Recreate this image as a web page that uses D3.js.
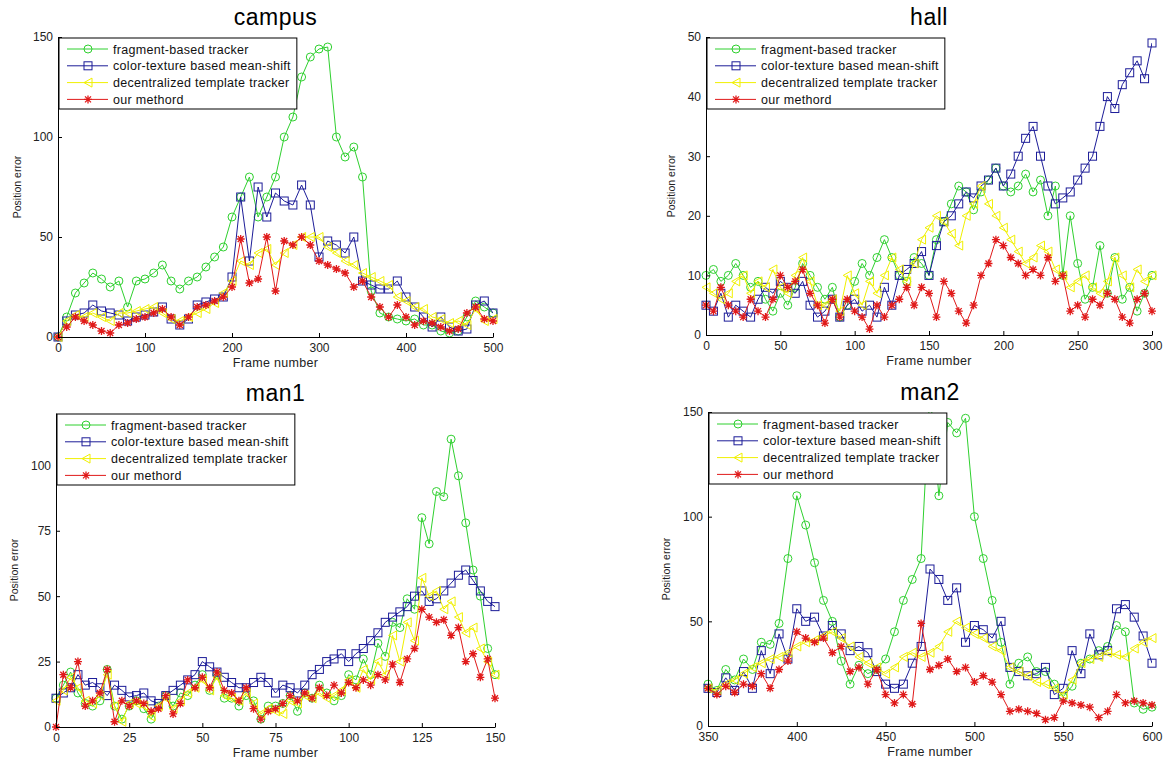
<!DOCTYPE html>
<html>
<head>
<meta charset="utf-8">
<script src="https://d3js.org/d3.v7.min.js"></script>
<style>
  body { margin: 0; background: #fff; }
  svg text { font-family: "Liberation Sans", Arial, sans-serif; }
</style>
</head>
<body>
<script>
// ---- data ----
var seriesNames = ["fragment-based tracker", "color-texture based mean-shift",
                   "decentralized template tracker", "our methord"];

// campus: every 10th frame
var campusFrames = d3.range(0, 501, 10);
var campusFragment = [0,10,22,27,32,29,25,28,15,28,29,32,36,28,24,28,30,35,40,45,60,70,80,60,70,80,100,110,130,140,144,145,100,90,95,80,23,12,10,9,8,9,6,6,3,2,3,10,18,15,12];
var campusMeanShift = [0,8,11,12,16,13,12,11,8,10,11,12.5,15,9,6,9,16,17.5,19,20,30,70,38,75,60,72,68,66,76,66,40,48,46,42,50,28,26,24,24,28,20,15,10,5,10,5,3,4,16,18,12];
var campusTemplate = [0,8,11,10,12,10,8,12,12,13,14,15,12,9,8,10,12,14,17,22,28,38,36,42,44,36,42,46,50,50,50,45,42,38,36,32,30,28,26,20,18,15,14,10,9,7,8,6,14,8,9];
var campusOurs = [0,5,10,8,6,3,2,6,7,9,10,12,14,10,6,10,15,16,18,20,25,49,27,29,50,23,48,46,50,46,38,36,34,32,25,28,20,15,10,16,10,6,8,7,5,3,4,12,15,9,8];

// hall: every 5th frame
var hallFrames = d3.range(0, 301, 5);
var hallFragment = [10,11,9,10,12,10,8,9,6,4,7,5,8,12,10,8,6,8,3,5,9,12,10,13,16,13,10,9,13,12,10,16,19,22,25,24,21,24,26,28,25,24,25,27,24,26,20,25,10,20,12,6,8,15,7,13,6,8,4,7,10];
var hallMeanShift = [5,4,7,3,5,4,3,6,8,7,9,8,7,9,5,3,4,6,3,5,6,4,5,3,8,5,10,11,12,14,10,15,19,20,22,24,23,25,26,28,25,27,30,33,35,30,25,22,23,24,26,28,30,35,40,38,42,44,46,43,49];
var hallTemplate = [8,7,6,7,9,10,7,9,8,11,8,7,10,13,9,5,5,6,4,10,7,5,9,7,10,13,11,9,12,16,18,20,19,17,15,20,22,25,22,20,18,16,14,12,13,15,14,11,10,8,9,10,8,7,9,13,10,8,11,9,10];
var hallOurs = [5,4,8,5,4,3,6,4,3,6,10,8,9,11,7,5,2,6,3,6,4,3,1,5,3,5,6,8,5,8,7,3,9,7,4,2,5,10,12,16,15,13,12,10,11,10,13,9,10,4,5,3,6,5,7,6,3,2,6,7,4];

// man1: every 2.5 frames
var man1Frames = d3.range(0, 150.1, 2.5);
var man1Fragment = [11,16,21,13,9,8,10,22,8,3,8,10,7,3,8,12,8,13,12,16,20,14,20,11,11,8,12,10,3,8,8,9,12,6,13,11,16,13,10,12,20,18,26,20,32,27,40,38,49,45,80,70,90,88,110,96,78,60,50,30,20];
var man1MeanShift = [11,13,15,20,16,17,15,12,16,14,11.5,12,13,10,9,12,14,16,18,20,25,23,21,19,17,15,15,17,19,17,13,16,15,13,16,20,22,25,26,28,25,28,30,33,36,40,42,44,46,50,52,48,49,52,55,58,60,56,52,48,46];
var man1Template = [10,14,19,15,10,9,12,20,8,2,9,9,8,4,8,11,7,10,13,15,18,14,19,12,11,10,13,9,5,7,6,5,10,9,12,11,13,11,12,14,18,15,22,18,25,20,35,25,40,33,57,50,52,45,48,42,36,38,30,25,20];
var man1Ours = [0,20,15,25,8,10,13,22,2,10,8,10,9,6,7,12,5,9,18,15,19,15,21,14,13,10,15,7,3,6,7,9,12,10,13,11,15,12,16,13,17,15,18,16,20,18,24,17,26,30,45,42,40,41,35,38,25,28,19,26,11];

// man2: every 5th frame from 350
var man2Frames = d3.range(350, 601, 5);
var man2Fragment = [20,17,27,22,32,27,40,39,49,80,110,96,78,60,50,31,20,29,25,27,32,45,60,70,80,160,110,145,140,147,100,80,60,40,20,30,33,26,26,20,14,19,30,32,36,38,48,45,11,8,9];
var man2MeanShift = [18,16,23,17,26,18,36,25,44,32,56,50,52,43,48,44,36,38,35,26,20,18,20,30,38,75,70,60,66,40,48,46,42,50,28,26,24,25,28,15,18,36,25,44,34,36,56,58,52,43,30];
var man2Template = [18,17,20,22,25,28,30,32,33,35,38,40,41,43,45,42,38,33,30,28,25,28,33,35,33,35,38,45,50,47,44,42,38,36,28,26,24,21,20,18,15,22,30,32,33,35,34,33,37,40,42];
var man2Ours = [18,15,19,16,20,19,25,18,27,31,45,42,40,42,35,38,26,28,20,27,15,11,15,10.5,49,27,29,32,26,28,21,24,21,15,7,8,7,6,3,4,12,11,10,9,4,7,15,11,12,11,10];

// ---- styling ----
var colors = ["#2fd02f", "#1c1c98", "#f0f000", "#e01a1a"];
var markers = ["circle", "square", "triangle", "star"];

var panels = [
  { title: "campus", left: 58, right: 493, top: 37, bottom: 337, ylab: 37,
    xDomain: [0, 500], xTicks: [0, 100, 200, 300, 400, 500],
    yDomain: [0, 150], yTicks: [0, 50, 100, 150],
    frames: campusFrames, series: [campusFragment, campusMeanShift, campusTemplate, campusOurs] },
  { title: "hall", left: 706, right: 1152, top: 37, bottom: 335, ylab: 31,
    xDomain: [0, 300], xTicks: [0, 50, 100, 150, 200, 250, 300],
    yDomain: [0, 50], yTicks: [0, 10, 20, 30, 40, 50],
    frames: hallFrames, series: [hallFragment, hallMeanShift, hallTemplate, hallOurs] },
  { title: "man1", left: 56, right: 495, top: 413, bottom: 727, ylab: 38,
    xDomain: [0, 150], xTicks: [0, 25, 50, 75, 100, 125, 150],
    yDomain: [0, 120], yTicks: [0, 25, 50, 75, 100],
    frames: man1Frames, series: [man1Fragment, man1MeanShift, man1Template, man1Ours] },
  { title: "man2", left: 708, right: 1152, top: 412, bottom: 726, ylab: 38,
    xDomain: [350, 600], xTicks: [350, 400, 450, 500, 550, 600],
    yDomain: [0, 150], yTicks: [0, 50, 100, 150],
    frames: man2Frames, series: [man2Fragment, man2MeanShift, man2Template, man2Ours] }
];

var svg = d3.select("body").append("svg")
    .attr("width", 1169)
    .attr("height", 760);

function drawMarker(g, type, color) {
  if (type === "circle") {
    g.append("circle").attr("r", 4).attr("fill", "none").attr("stroke", color);
  } else if (type === "square") {
    g.append("rect").attr("x", -4).attr("y", -4).attr("width", 8).attr("height", 8)
      .attr("fill", "none").attr("stroke", color);
  } else if (type === "triangle") {
    g.append("path").attr("d", "M-4,0L4,-4.5L4,4.5Z").attr("fill", "none").attr("stroke", color);
  } else {
    g.append("path").attr("d", "M-4,0H4M0,-4V4M-3,-3L3,3M-3,3L3,-3")
      .attr("stroke", color).attr("stroke-width", 1.3);
  }
}

panels.forEach(function (p, pi) {
  var x = d3.scaleLinear().domain(p.xDomain).range([p.left, p.right]);
  var y = d3.scaleLinear().domain(p.yDomain).range([p.bottom, p.top]);
  var g = svg.append("g");

  g.append("clipPath").attr("id", "clip" + pi)
    .append("rect").attr("x", p.left).attr("y", p.top)
    .attr("width", p.right - p.left).attr("height", p.bottom - p.top);

  // series
  p.series.forEach(function (vals, si) {
    var pts = vals.map(function (v, i) { return [p.frames[i], v]; });
    var line = d3.line().x(function (d) { return x(d[0]); }).y(function (d) { return y(d[1]); });
    g.append("path").datum(pts)
      .attr("d", line)
      .attr("fill", "none")
      .attr("stroke", colors[si])
      .attr("stroke-width", 1)
      .attr("clip-path", "url(#clip" + pi + ")");
    pts.forEach(function (d) {
      if (d[1] > p.yDomain[1]) return;
      var m = g.append("g").attr("transform", "translate(" + x(d[0]) + "," + y(d[1]) + ")");
      drawMarker(m, markers[si], colors[si]);
    });
  });

  // axes, ticks inward
  var xAxis = d3.axisBottom(x).tickValues(p.xTicks).tickSizeInner(-4).tickSizeOuter(0).tickPadding(6);
  var yAxis = d3.axisLeft(y).tickValues(p.yTicks).tickSizeInner(-4).tickSizeOuter(0).tickPadding(5);
  var gx = g.append("g").attr("transform", "translate(0," + p.bottom + ")").call(xAxis);
  var gy = g.append("g").attr("transform", "translate(" + p.left + ",0)").call(yAxis);
  [gx, gy].forEach(function (a) {
    a.selectAll("text").attr("font-size", 12).attr("fill", "#222")
      .style("font-family", "'Liberation Sans', Arial, sans-serif");
    a.select(".domain").attr("stroke", "#000");
    a.selectAll(".tick line").attr("stroke", "#000");
  });

  // titles and labels
  g.append("text").attr("x", (p.left + p.right) / 2).attr("y", p.top - 12)
    .attr("text-anchor", "middle").attr("font-size", 23).attr("letter-spacing", 0.5).text(p.title);
  g.append("text").attr("x", (p.left + p.right) / 2).attr("y", p.bottom + 29.5)
    .attr("text-anchor", "middle").attr("font-size", 12.5).attr("letter-spacing", 0.3)
    .attr("fill", "#222").text("Frame number");
  g.append("text")
    .attr("transform", "translate(" + (p.left - p.ylab) + "," + ((p.top + p.bottom) / 2) + ") rotate(-90)")
    .attr("text-anchor", "middle").attr("font-size", 10.5).attr("fill", "#222").text("Position error");

  // legend
  var lx = p.left + 1, ly = p.top + 1;
  var leg = g.append("g");
  var box = leg.append("rect").attr("x", lx).attr("y", ly).attr("height", 71)
    .attr("fill", "#fff").attr("stroke", "#000");
  var maxW = 0;
  seriesNames.forEach(function (name, si) {
    var ry = ly + 11 + si * 16.8;
    leg.append("line").attr("x1", lx + 8).attr("x2", lx + 49).attr("y1", ry).attr("y2", ry)
      .attr("stroke", colors[si]);
    drawMarker(leg.append("g").attr("transform", "translate(" + (lx + 29) + "," + ry + ")"),
      markers[si], colors[si]);
    var t = leg.append("text").attr("x", lx + 54).attr("y", ry + 4.5)
      .attr("font-size", 12.5).attr("letter-spacing", 0.3).attr("fill", "#111").text(name);
    maxW = Math.max(maxW, t.node().getComputedTextLength());
  });
  box.attr("width", 54 + maxW + 6);
});
</script>
</body>
</html>
